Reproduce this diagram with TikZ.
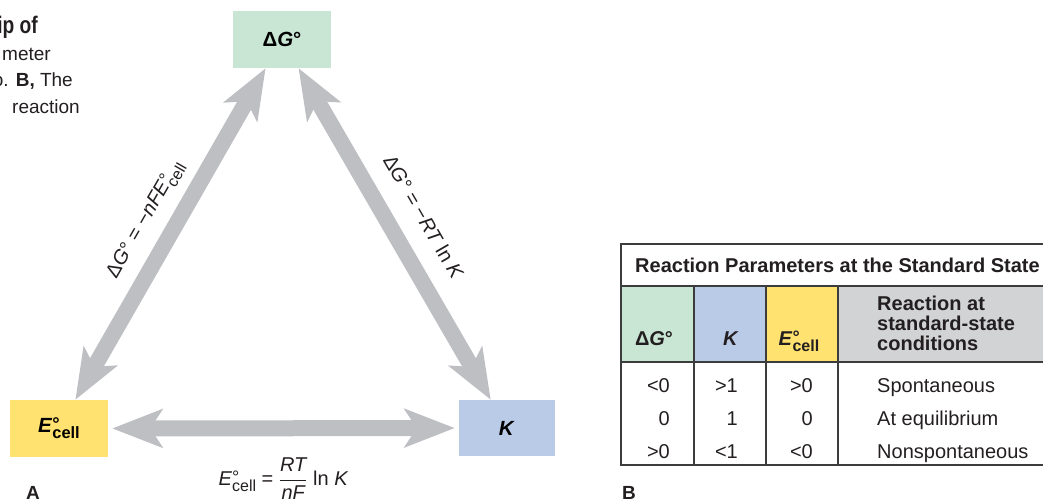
\documentclass[tikz,border=0pt]{standalone}
\usepackage{fontspec}
\setmainfont{Liberation Sans}
\newfontfamily\condfont{Liberation Sans}[FakeStretch=0.8]
\usetikzlibrary{arrows.meta,positioning}
\definecolor{SoftGreen}{RGB}{201,230,213}
\definecolor{SoftBlue}{RGB}{186,203,232}
\definecolor{SoftYellow}{RGB}{255,226,112}
\definecolor{SoftGray}{RGB}{210,211,213}
\definecolor{ArrowGray}{RGB}{190,191,195}
\definecolor{InkGray}{RGB}{35,31,32}
\definecolor{RuleGray}{RGB}{60,60,60}
\newcommand{\ecellsym}{\textit{E}\rlap{\raisebox{0.08em}{\scalebox{0.9}{°}}}\raisebox{-0.3em}{\scalebox{0.8}{cell}}}
\tikzset{
  statebox/.style={rectangle, inner sep=0pt, minimum width=98pt,
    minimum height=57pt, font=\fontsize{20.5}{22}\selectfont\bfseries},
  bigarrow/.style={{Stealth[length=50pt,width=38pt,inset=12pt]}-{Stealth[length=50pt,width=38pt,inset=12pt]},
    line width=16pt, draw=ArrowGray},
  relation/.style={font=\fontsize{20}{22}\selectfont, text=InkGray},
  captext/.style={anchor=base east, inner sep=0pt, text=InkGray,
    font=\fontsize{19}{22}\selectfont},
  tabtext/.style={inner sep=0pt, text=InkGray, font=\fontsize{20}{20}\selectfont},
  tabhead/.style={tabtext, font=\fontsize{20}{20}\selectfont\bfseries},
  tabrule/.style={draw=RuleGray, line width=1.5pt}
}

\begin{document}
\begin{tikzpicture}[x=1pt, y=-1pt]
  \useasboundingbox (0,0) rectangle (1043,499);
  \clip (0,0) rectangle (1043,499);

  % caption fragment, cut by the page edge
  \node[captext, font=\condfont\fontsize{24}{26}\selectfont\bfseries] (cap1) at (38,33) {ip of};
  \node[captext] (cap2) at (51,60) {meter};
  \node[captext] (cap3) at (73,86) {o. \textbf{B,} The};
  \node[captext] (cap4) at (80,113) {reaction};

  % A: the three quantities
  \node[statebox, fill=SoftGreen] (dg) at (282,39.5) {Δ\textit{G}°};
  \node[statebox, fill=SoftYellow] (ecell) at (59,428.5) {\ecellsym};
  \node[statebox, fill=SoftBlue, minimum width=96pt, minimum height=56pt] (k) at (507,428) {\textit{K}};

  \draw[bigarrow] (ecell) -- node[relation, sloped, above=7pt] (dgecell)
    {Δ\textit{G}° = −\textit{nFE}\rlap{\raisebox{0.08em}{\scalebox{0.9}{°}}}\raisebox{-0.3em}{\scalebox{0.8}{cell}}} (dg);
  \draw[bigarrow] (dg) -- node[relation, sloped, above=15pt] (dgk)
    {Δ\textit{G}° = −\textit{RT} ln \textit{K}} (k);
  \draw[bigarrow, shorten <=4pt, shorten >=4pt] (ecell) -- node[relation, midway, yshift=-50pt] (ecellk)
    {\ecellsym{} = $\displaystyle\frac{\textit{RT}}{\textit{nF}}$ ln \textit{K}} (k);

  \node[anchor=base, font=\fontsize{19}{22}\selectfont\bfseries, text=InkGray] (labA) at (33,499) {A};

  % B: the table
  \fill[SoftGreen] (621,286) rectangle (694,362);
  \fill[SoftBlue] (694,286) rectangle (766,362);
  \fill[SoftYellow] (766,286) rectangle (838,362);
  \fill[SoftGray] (838,286) rectangle (1060,362);
  \draw[tabrule] (621,286) -- (1060,286);
  \draw[tabrule] (621,362) -- (1060,362);
  \foreach \x in {694,766,838}
    \draw[tabrule] (\x,286) -- (\x,465);
  \draw[tabrule, line width=2pt] (1060,244) -- (621,244) -- (621,465) -- (1060,465);

  \node[tabhead, anchor=base west] (title) at (635,272)
    {Reaction Parameters at the Standard State};
  \node[tabhead, anchor=base] (hdg) at (654,345) {Δ\textit{G}°};
  \node[tabhead, anchor=base] (hk) at (731,345) {\textit{K}};
  \node[tabhead, anchor=base] (hecell) at (799,345) {\ecellsym};
  \node[tabhead, anchor=base west, align=left] (hreact) at (877,350)
    {Reaction at\\standard-state\\conditions};

  \foreach \i/\y/\a/\b/\c/\d in {1/392/<0/>1/>0/Spontaneous,
      2/425/0/1/0/At equilibrium, 3/458/>0/<1/<0/Nonspontaneous} {
    \node[tabtext, anchor=base east] (dg\i) at (670,\y) {\a};
    \node[tabtext, anchor=base east] (k\i) at (738,\y) {\b};
    \node[tabtext, anchor=base east] (e\i) at (813,\y) {\c};
    \node[tabtext, anchor=base west] (r\i) at (877,\y) {\d};
  }

  \node[anchor=base, font=\fontsize{19}{22}\selectfont\bfseries, text=InkGray] (labB) at (629,499) {B};
\end{tikzpicture}
\end{document}
